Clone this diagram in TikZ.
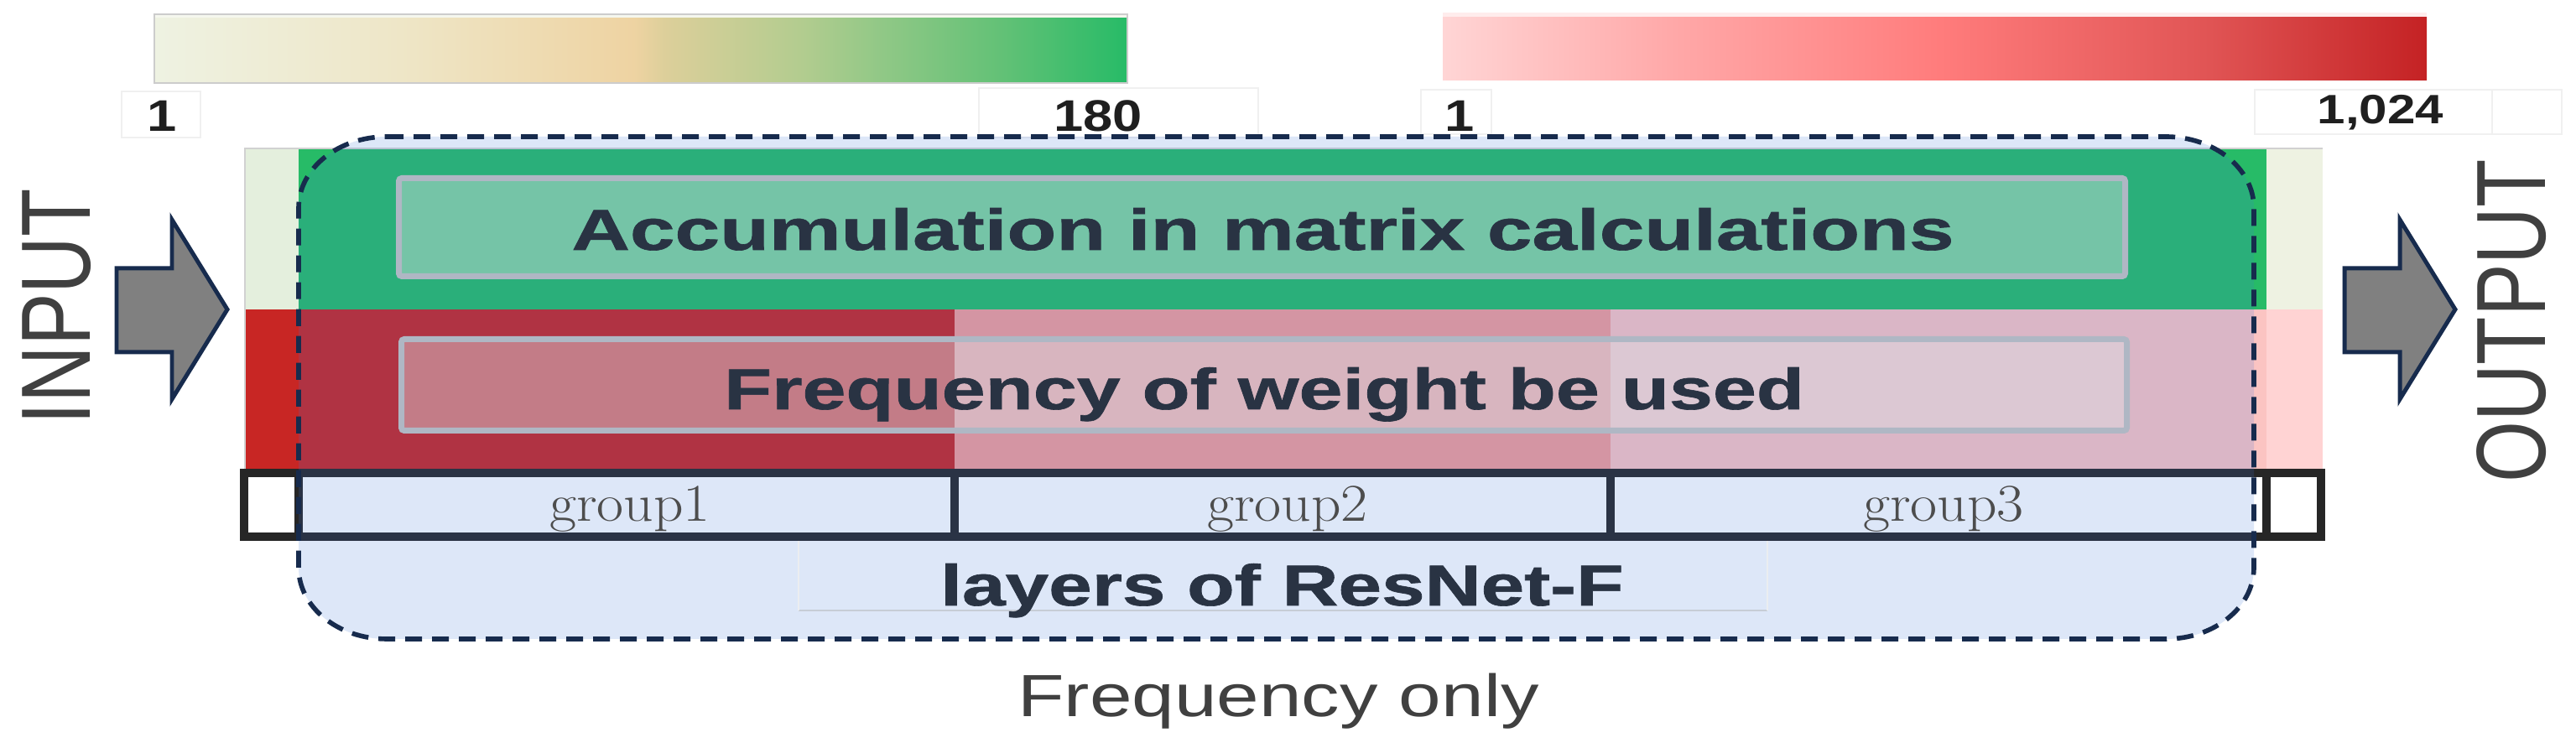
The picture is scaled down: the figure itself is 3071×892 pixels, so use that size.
\documentclass[tikz,border=0pt]{standalone}
\usepackage{fontspec}
\usepackage{graphicx}
\newfontfamily\arial{Liberation Sans}
\newfontfamily\arialheavy[BoldFeatures={FakeBold=0.9}]{Liberation Sans}
\definecolor{gbA}{HTML}{EEF2E2}
\definecolor{gbB}{HTML}{EEE6C7}
\definecolor{gbC}{HTML}{EED3A2}
\definecolor{gbD}{HTML}{DCCF9A}
\definecolor{gbE}{HTML}{B2CC8F}
\definecolor{gbF}{HTML}{90C886}
\definecolor{gbG}{HTML}{62C176}
\definecolor{gbH}{HTML}{27BB67}
\definecolor{rbA}{HTML}{FFD5D5}
\definecolor{rbB}{HTML}{FFA9A9}
\definecolor{rbC}{HTML}{FF7C7C}
\definecolor{rbD}{HTML}{E05454}
\definecolor{rbE}{HTML}{C42224}
\definecolor{colPaleG}{HTML}{E4EFDD}
\definecolor{colPaleG2}{HTML}{EEF2E2}
\definecolor{colGreen}{HTML}{27BB67}
\definecolor{colRedA}{HTML}{C82624}
\definecolor{colRedB}{HTML}{F49C98}
\definecolor{colRedC}{HTML}{FBC4C2}
\definecolor{colRedD}{HTML}{FFD3D3}
\definecolor{ovlBlue}{RGB}{62,118,218}
\definecolor{navy}{HTML}{172B4D}
\definecolor{boldtxt}{HTML}{293343}
\definecolor{greytxt}{HTML}{404040}
\definecolor{grptxt}{HTML}{4D4D4D}
\definecolor{boxedge}{HTML}{AFB7C4}
\definecolor{cellgrey}{HTML}{F0F0F0}
\definecolor{arrowfill}{HTML}{808080}
\pgfdeclarehorizontalshading{greenbar}{100bp}{color(0bp)=(gbA); color(25bp)=(gbA); color(37.65bp)=(gbB); color(49.65bp)=(gbC); color(51.3bp)=(gbD); color(58.3bp)=(gbE); color(62.45bp)=(gbF); color(68.6bp)=(gbG); color(75bp)=(gbH); color(100bp)=(gbH)}
\pgfdeclarehorizontalshading{redbar}{100bp}{color(0bp)=(rbA); color(25bp)=(rbA); color(36.5bp)=(rbB); color(50.25bp)=(rbC); color(64bp)=(rbD); color(75bp)=(rbE); color(100bp)=(rbE)}
\tikzset{
  cellframe/.style={draw=cellgrey, line width=0.4pt},
  grpline/.style={draw=black!85, line width=2.845pt},
  innerbox/.style={draw=boxedge, line width=1.99pt, fill=boxedge!40!white, fill opacity=0.42, rounded corners=1pt},
  dashbox/.style={draw=navy, line width=1.6pt, dash pattern=on 5.7pt off 3.4pt},
  bigarrow/.style={draw=navy, fill=arrowfill, line width=1.42pt, line join=miter},
  boldlabel/.style={inner sep=0pt, anchor=base, text=boldtxt, font=\arialheavy\bfseries\fontsize{19.6pt}{22pt}\selectfont},
  grouplabel/.style={inner sep=0pt, anchor=base, text=grptxt, font=\fontsize{18pt}{20pt}\selectfont},
  numlabel/.style={inner sep=0pt, anchor=base, text=black!88, font=\arial\bfseries\fontsize{15pt}{17pt}\selectfont},
  sidelabel/.style={inner sep=0pt, text=greytxt, font=\arial\fontsize{26.7pt}{28pt}\selectfont},
  caption/.style={inner sep=0pt, anchor=base, text=greytxt, font=\arial\fontsize{20.2pt}{22pt}\selectfont}
}
\begin{document}
\begin{tikzpicture}[x=0.01cm,y=-0.01cm]
\useasboundingbox (0,0) rectangle (3071,892);
\fill[white] (0,0) rectangle (3071,892);
% colour bars
\fill[gbA!60!white] (184,17) rectangle (1344,22);
\shade[shading=greenbar] (184,22) rectangle (1344,99);
\draw[draw=black!20, line width=0.5pt] (184,17) rectangle (1344,99);
\fill[rbA!45!white] (1720,15) rectangle (2893,21);
\shade[shading=redbar] (1720,21) rectangle (2893,96);
% faint cells around the scale numbers
\draw[cellframe] (145,109) rectangle (239,164);
\draw[cellframe] (1167,105) rectangle (1500,164);
\draw[cellframe] (1694,107) rectangle (1778,160);
\draw[cellframe] (2688,107) rectangle (2971,160);
\draw[cellframe] (2971,107) rectangle (3054,160);
\node[numlabel] (gmin) at (193,157) {\scalebox{1.2}[1]{1}};
\node[numlabel] (gmax) at (1309,157) {\scalebox{1.2}[1]{180}};
\node[numlabel] (rmin) at (1740,157) {\scalebox{1.2}[1]{1}};
\node[numlabel, font=\arial\bfseries\fontsize{13.9pt}{16pt}\selectfont] (rmax) at (2838,148) {\scalebox{1.23}[1]{1,024}};
% base table
\fill[colPaleG] (292,177) rectangle (356,369);
\fill[colGreen] (356,177) rectangle (2702,369);
\fill[colPaleG2] (2702,177) rectangle (2769,369);
\fill[colRedA] (292,369) rectangle (1138,559);
\fill[colRedB] (1138,369) rectangle (1920,559);
\fill[colRedC] (1920,369) rectangle (2702,559);
\fill[colRedD] (2702,369) rectangle (2769,559);
\draw[black!18, line width=0.4pt] (292,559) -- (292,177) -- (2769,177);
% group row
\fill[white] (291,564) rectangle (2767,640.5);
\draw[grpline] (291,564) rectangle (2767,640.5);
\draw[grpline] (355.5,564) -- (355.5,640.5);
\draw[grpline] (1138,564) -- (1138,640.5);
\draw[grpline] (1920,564) -- (1920,640.5);
\draw[grpline] (2701.5,564) -- (2701.5,640.5);
% translucent frame fill
\fill[ovlBlue, fill opacity=0.174] (461,163) -- (2582,163) .. controls (2640,163) and (2687,201) .. (2687,248) -- (2687,677) .. controls (2687,724) and (2640,762) .. (2582,762) -- (461,762) .. controls (403,762) and (356,724) .. (356,677) -- (356,248) .. controls (356,201) and (403,163) .. (461,163) -- cycle;
% inner boxes
\draw[innerbox] (475.5,212.5) rectangle (2533.5,329.5);
\draw[innerbox] (478.5,404.5) rectangle (2535.5,513.5);
\draw[draw=boxedge!70, line width=0.5pt] (952,728) -- (2107,728);
\draw[draw=boxedge!25, line width=0.4pt] (952,645) -- (952,728);
\draw[draw=boxedge!25, line width=0.4pt] (2107,645) -- (2107,728);
% texts
\node[boldlabel] (acc) at (1505.5,298) {\scalebox{1.397}[1]{Accumulation in matrix calculations}};
\node[boldlabel] (freq) at (1507,488) {\scalebox{1.356}[1]{Frequency of weight be used}};
\node[boldlabel] (layers) at (1528.5,722) {\scalebox{1.346}[1]{layers of ResNet-F}};
\node[grouplabel] (g1) at (751,622) {\scalebox{1.1}[1]{group1}};
\node[grouplabel] (g2) at (1535,622) {\scalebox{1.1}[1]{group2}};
\node[grouplabel] (g3) at (2317,622) {\scalebox{1.1}[1]{group3}};
\node[caption] (cap) at (1524,855) {\scalebox{1.28}[1]{Frequency only}};
% dashed frame
\draw[dashbox] (461,163) -- (2582,163) .. controls (2640,163) and (2687,201) .. (2687,248) -- (2687,677) .. controls (2687,724) and (2640,762) .. (2582,762) -- (461,762) .. controls (403,762) and (356,724) .. (356,677) -- (356,248) .. controls (356,201) and (403,163) .. (461,163) -- cycle;
% input / output
\draw[bigarrow] (139,320) -- (205,320) -- (205,262) -- (271,369) -- (205,476) -- (205,420) -- (139,420) -- cycle;
\draw[bigarrow] (2795,320) -- (2861,320) -- (2861,262) -- (2927,369) -- (2861,476) -- (2861,420) -- (2795,420) -- cycle;
\node[sidelabel] (inlab) at (67.5,366) {\scalebox{1.25}[1]{\rotatebox{90}{INPUT}}};
\node[sidelabel] (outlab) at (2994,383) {\scalebox{1.25}[1]{\rotatebox{90}{OUTPUT}}};
\end{tikzpicture}
\end{document}
